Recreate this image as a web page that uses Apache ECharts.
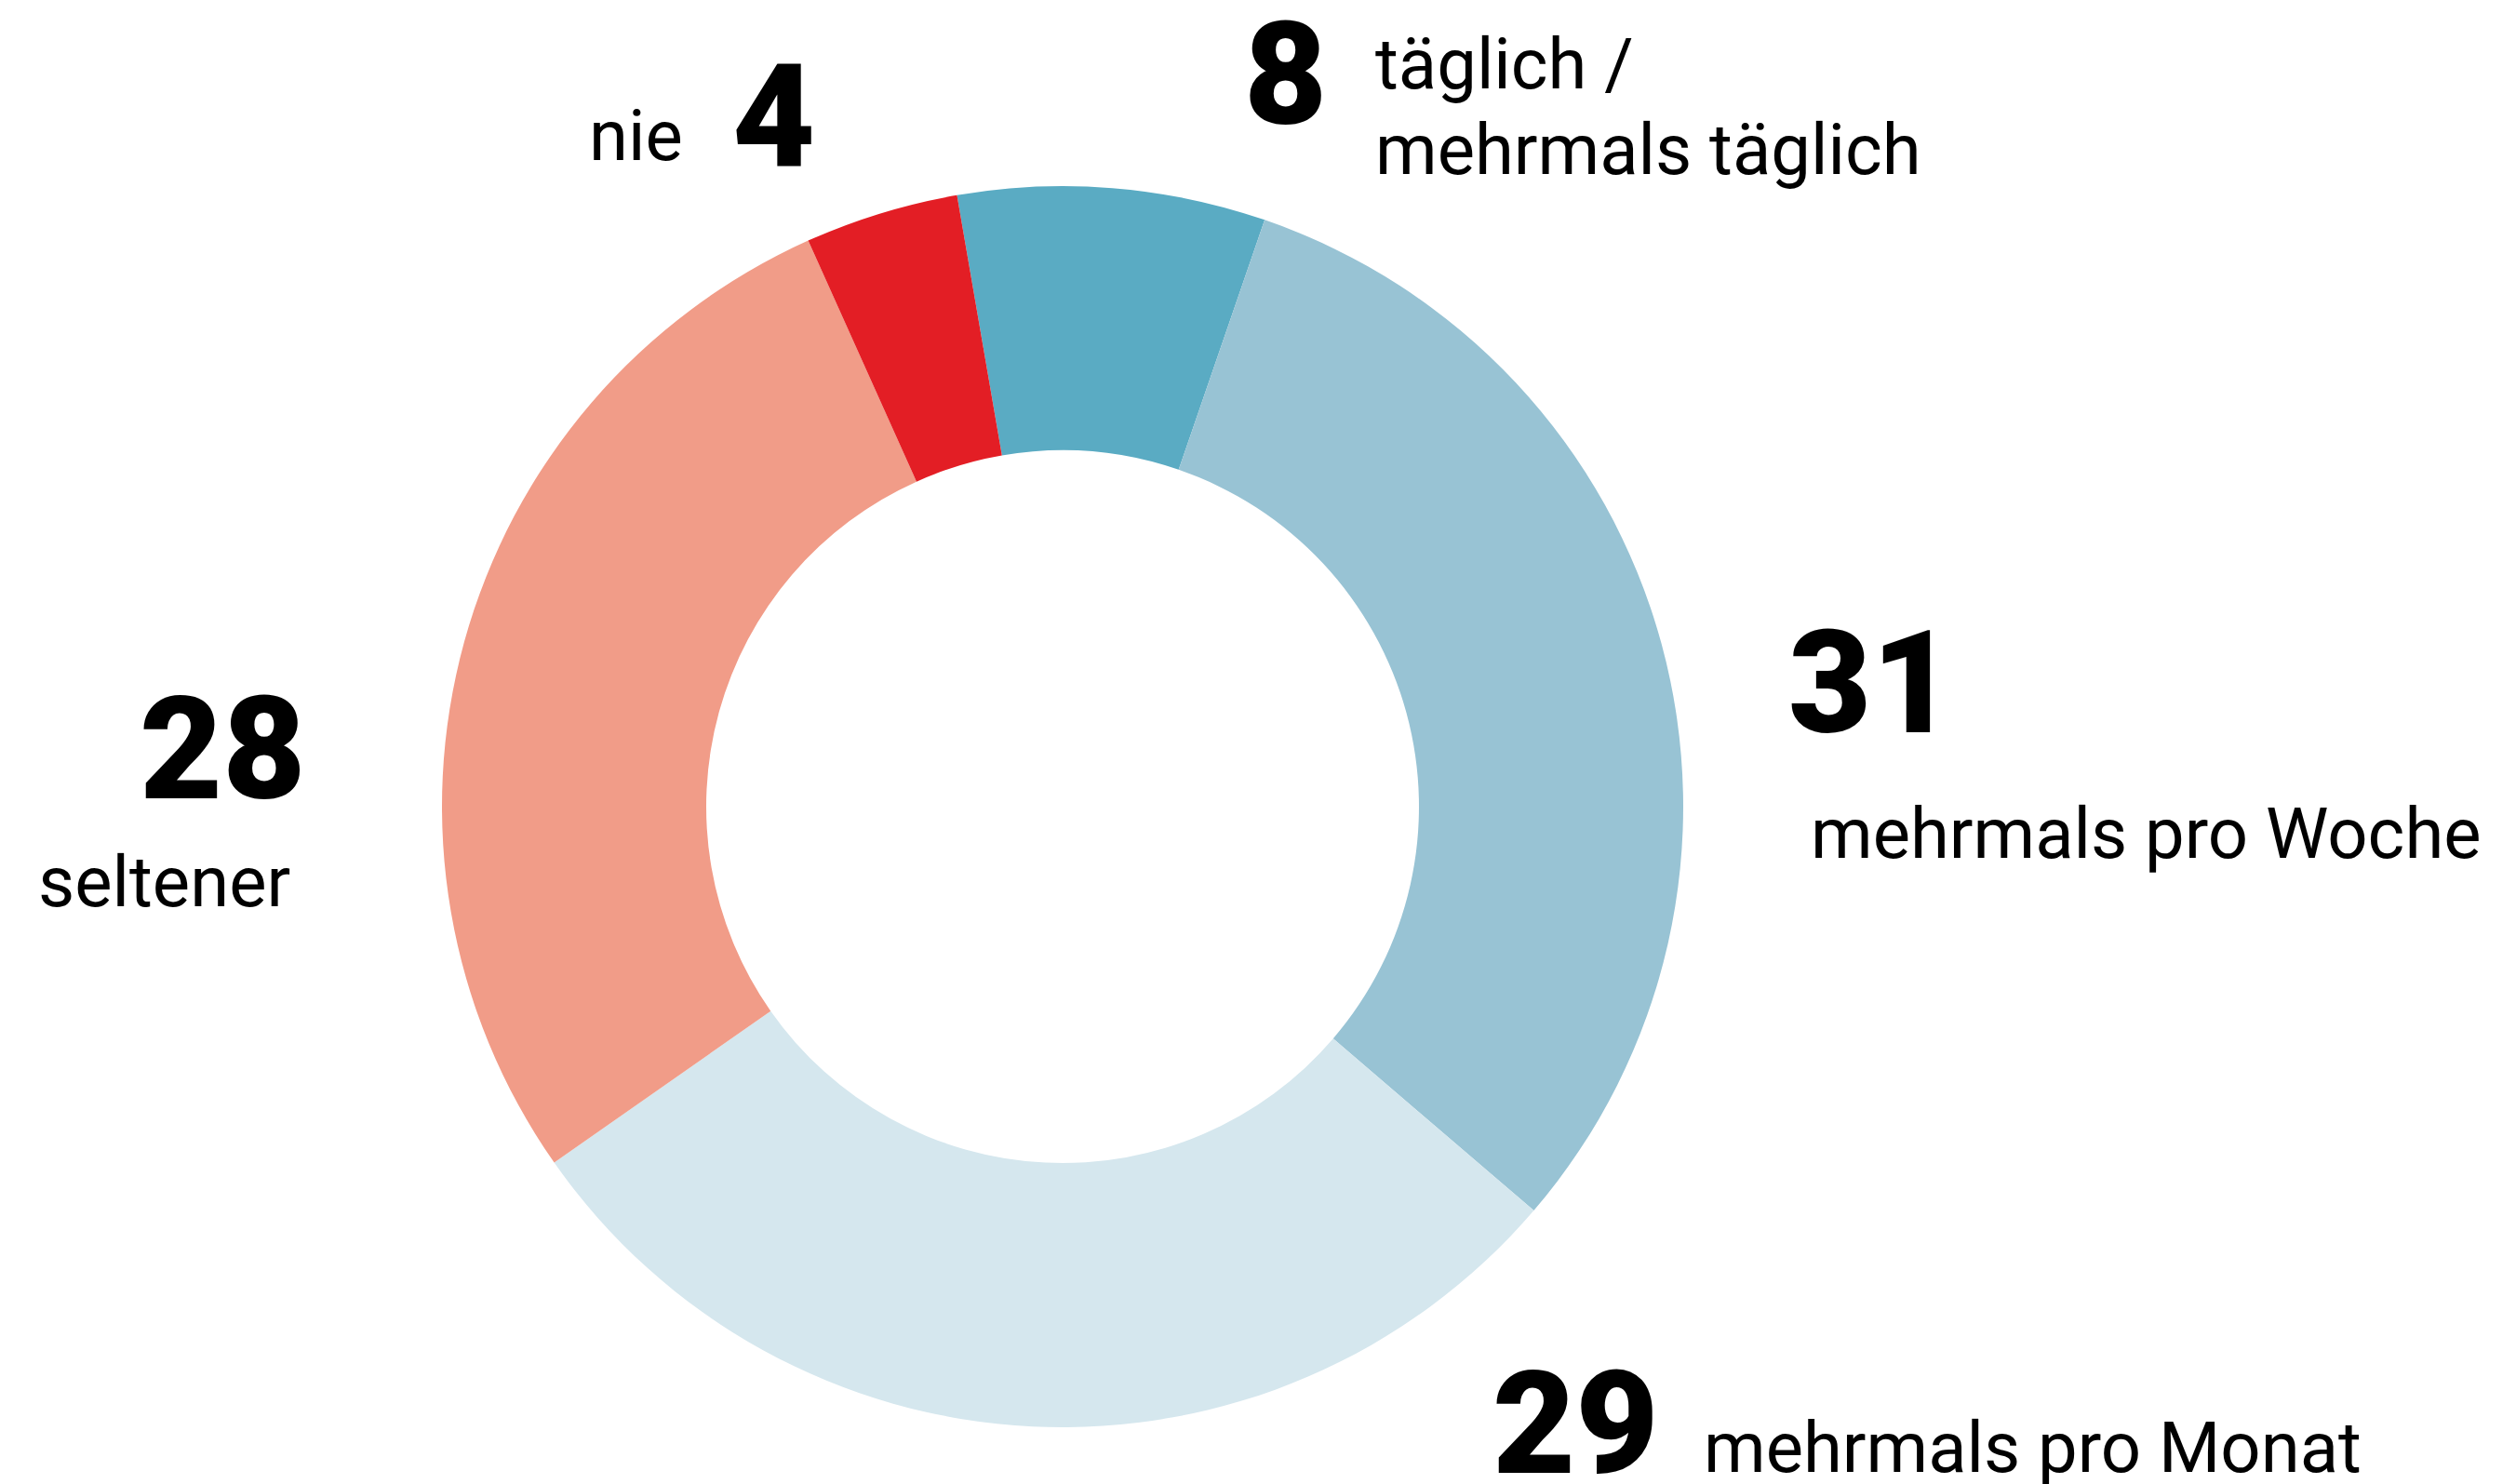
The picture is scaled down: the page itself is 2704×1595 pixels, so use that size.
<!DOCTYPE html>
<html>
<head>
<meta charset="utf-8">
<script src="https://cdn.jsdelivr.net/npm/echarts@6/dist/echarts.min.js"></script>
<style>
  html, body { margin: 0; padding: 0; background: #fff; }
  #main-chart { width: 2704px; height: 1595px; }
</style>
</head>
<body>
<div id="main-chart"></div>
<script>
const categories = ['täglich /\nmehrmals täglich', 'mehrmals pro Woche', 'mehrmals pro Monat', 'seltener', 'nie']
const values = [8, 31, 29, 28, 4]
const colors = ['#5aabc3', '#98c3d4', '#d5e7ee', '#f19c88', '#e31e25']

// label anchors: [left, baseline] for the number and for the text
const numPos = [[1337, 133], [1922, 787], [1604, 1583], [150, 858], [787, 178]]
const textPos = [[1478, 95], [1946, 922], [1831, 1582], [41, 974], [633, 172]]

const NUM_SIZE = 154
const TEXT_SIZE = 76
const LINE_H = 92
const FONT = 'Roboto, "Open Sans", sans-serif'

const chart = echarts.init(document.querySelector('#main-chart'), null, { renderer: 'svg' })

const labels = []
values.forEach((v, i) => {
  labels.push({
    type: 'text',
    left: numPos[i][0],
    top: numPos[i][1] - NUM_SIZE * 0.84,
    style: {
      text: String(v),
      font: `900 ${NUM_SIZE}px ${FONT}`,
      fill: '#000'
    }
  })
  const multi = categories[i].indexOf('\n') >= 0
  const lh = multi ? LINE_H : TEXT_SIZE
  labels.push({
    type: 'text',
    left: textPos[i][0],
    top: textPos[i][1] - TEXT_SIZE * 0.342 - lh / 2,
    style: {
      text: categories[i],
      font: `400 ${TEXT_SIZE}px ${FONT}`,
      lineHeight: lh,
      fill: '#000'
    }
  })
})

chart.setOption({
  animation: false,
  series: [{
    type: 'pie',
    center: [1142, 867],
    radius: [383, 667],
    startAngle: 99.8,
    clockwise: true,
    silent: true,
    label: { show: false },
    labelLine: { show: false },
    itemStyle: { borderWidth: 0 },
    data: values.map((v, i) => ({
      name: categories[i],
      value: v,
      itemStyle: { color: colors[i] }
    }))
  }],
  graphic: labels
})
</script>
</body>
</html>
